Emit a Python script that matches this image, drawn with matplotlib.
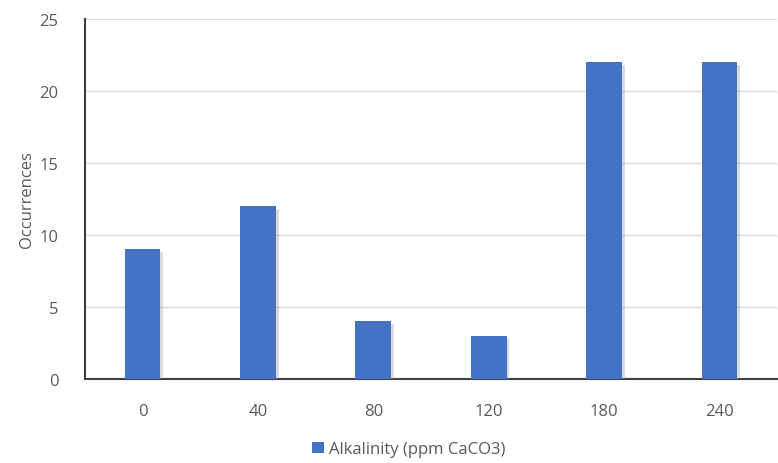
import matplotlib.pyplot as plt
import matplotlib.patheffects as pe

categories = ["0", "40", "80", "120", "180", "240"]
occurrences = [9, 12, 4, 3, 22, 22]
series_name = "Alkalinity (ppm CaCO3)"

plt.rcParams['font.family'] = ['Open Sans', 'DejaVu Sans']
text_color = "#595959"

fig = plt.figure(figsize=(7.78, 4.64), dpi=100)
ax = fig.add_axes([0.109, 0.181, 0.89, 0.776])

x = range(len(categories))
bars = ax.bar(x, occurrences, width=0.31, color="#4472C4", label=series_name, zorder=3)
for b in bars:
    b.set_path_effects([pe.SimplePatchShadow(offset=(2, -2), shadow_rgbFace="#999999", alpha=0.35),
                        pe.Normal()])

ax.set_xlim(-0.5, len(categories) - 0.5)
ax.set_ylim(0, 25)
ax.set_yticks([0, 5, 10, 15, 20, 25])
ax.set_xticks(list(x))
ax.set_xticklabels(categories)
ax.yaxis.grid(True, color="#d9d9d9", linewidth=1, zorder=0)
ax.tick_params(axis="both", length=0, labelsize=12, labelcolor=text_color)
ax.tick_params(axis="x", pad=17)
ax.tick_params(axis="y", pad=19)

for s in ["top", "right"]:
    ax.spines[s].set_visible(False)
ax.spines["left"].set_color("#404040")
ax.spines["left"].set_linewidth(1.5)
ax.spines["bottom"].set_color("#404040")
ax.spines["bottom"].set_linewidth(1.5)

ax.set_ylabel("Occurrences", fontsize=12, color=text_color, labelpad=3)

leg = fig.legend(loc="lower center", bbox_to_anchor=(0.525, -0.02), frameon=False,
                 fontsize=12, handlelength=0.7, handleheight=0.7, handletextpad=0.3)
for t in leg.get_texts():
    t.set_color(text_color)
for h in leg.legend_handles:
    h.set_path_effects([])

fig.savefig("out.png", dpi=100)
